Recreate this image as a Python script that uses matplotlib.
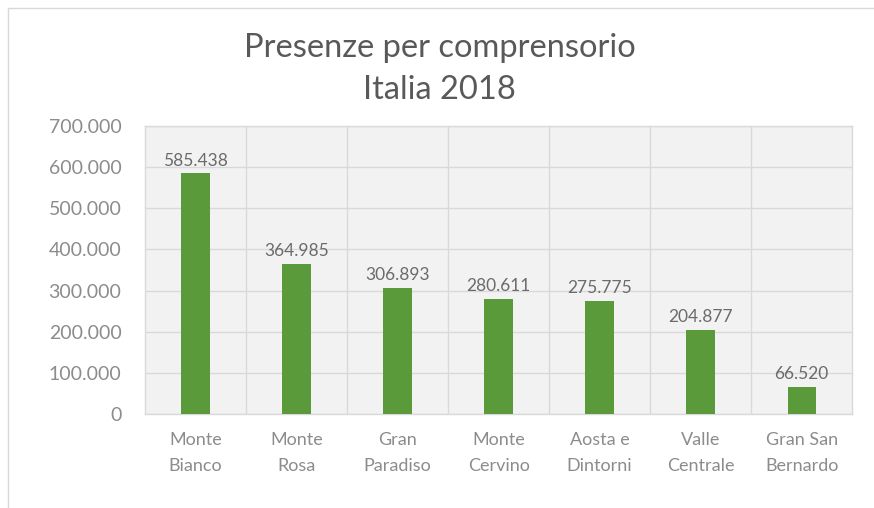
import matplotlib.pyplot as plt
import matplotlib.patches as patches
from matplotlib.ticker import FuncFormatter, MultipleLocator
import numpy as np

plt.rcParams['font.family'] = ['Lato', 'DejaVu Sans']

comprensori = ['Monte\nBianco', 'Monte\nRosa', 'Gran\nParadiso', 'Monte\nCervino',
               'Aosta e\nDintorni', 'Valle\nCentrale', 'Gran San\nBernardo']
presenze = [585438, 364985, 306893, 280611, 275775, 204877, 66520]


def punto_migliaia(v, pos=None):
    return f"{int(v):,}".replace(',', '.')


fig = plt.figure(figsize=(8.74, 5.08), dpi=100)
fig.patch.set_facecolor('white')

# cornice esterna
fig.add_artist(patches.Rectangle((8 / 874, -0.01), 1.0, 1 - 8 / 508 + 0.01,
                                 transform=fig.transFigure, fill=False,
                                 edgecolor='#d9d9d9', linewidth=1.0))

ax = fig.add_axes([0.166, 0.185, 0.809, 0.567])
ax.set_facecolor('#f2f2f2')

x = np.arange(len(presenze))
ax.bar(x, presenze, width=0.28, color='#5b9a3b', zorder=3)

for xi, v in zip(x, presenze):
    ax.text(xi, v + 11000, punto_migliaia(v), ha='center', va='bottom',
            fontsize=12.5, color='#6b6b6b', zorder=4)

ax.set_xlim(-0.5, len(presenze) - 0.5)
ax.set_ylim(0, 700000)
ax.yaxis.set_major_locator(MultipleLocator(100000))
ax.yaxis.set_major_formatter(FuncFormatter(punto_migliaia))

# griglia orizzontale e verticale tra le categorie
ax.grid(axis='y', color='#d9d9d9', linewidth=1, zorder=0)
for b in np.arange(0.5, len(presenze) - 0.5, 1):
    ax.axvline(b, color='#d9d9d9', linewidth=1, zorder=0)

ax.set_xticks(x)
ax.set_xticklabels(comprensori, fontsize=13, color='#8c8c8c', linespacing=1.75)
ax.tick_params(axis='x', length=0, pad=13)
ax.tick_params(axis='y', length=0, labelsize=14, labelcolor='#8c8c8c', pad=17)

for s in ax.spines.values():
    s.set_color('#d9d9d9')
    s.set_linewidth(1)

fig.text(0.503, 0.905, 'Presenze per comprensorio', ha='center', va='center',
         fontsize=23.5, color='#595959')
fig.text(0.503, 0.822, 'Italia 2018', ha='center', va='center',
         fontsize=23.5, color='#595959')

fig.savefig('out.png', dpi=100)
